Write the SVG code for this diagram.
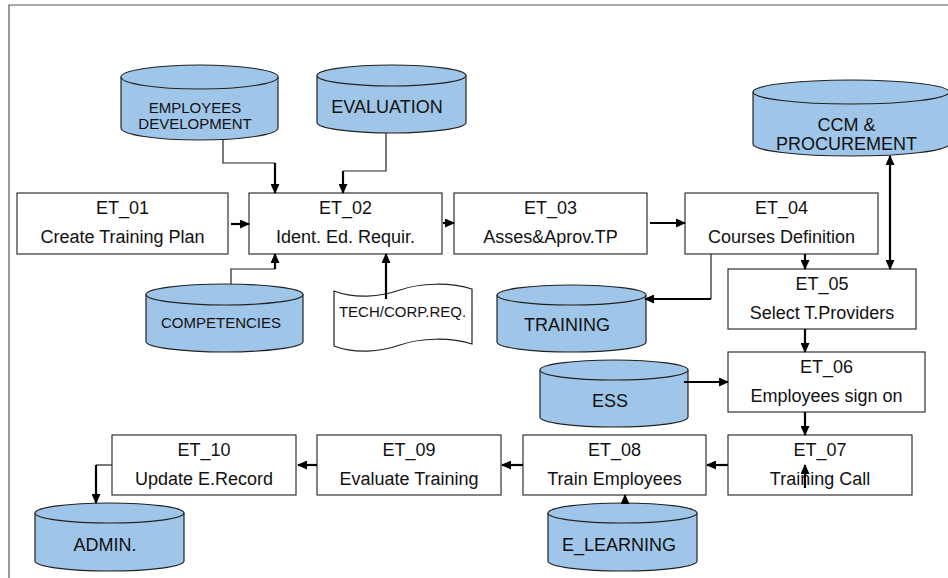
<svg xmlns="http://www.w3.org/2000/svg" width="948" height="578" viewBox="0 0 948 578">
  <style>
    .frame { fill: none; stroke: #555; stroke-width: 1.2; }
    .box { fill: #fff; stroke: #333; stroke-width: 1.2; }
    .db { fill: #9fc5e8; stroke: #222; stroke-width: 1.2; }
    .doc { fill: #fff; stroke: #222; stroke-width: 1.2; }
    .t { font-family: "Liberation Sans", Arial, sans-serif; font-size: 18px; fill: #111; text-anchor: middle; }
    .s { font-size: 15px; }
    .thin { fill: none; stroke: #222; stroke-width: 1.2; }
    .thick { fill: none; stroke: #000; stroke-width: 2.2; }
    .arr { marker-end: url(#ah); }
    .both { marker-start: url(#ah); marker-end: url(#ah); }
  </style>
  <defs>
    <marker id="ah" markerWidth="10" markerHeight="9" refX="9" refY="4.5" orient="auto-start-reverse" markerUnits="userSpaceOnUse">
      <path d="M0,0 L10,4.5 L0,9 Z" fill="#000"/>
    </marker>
  </defs>

  <rect width="948" height="578" fill="#fff"/>
  <!-- page frame (top and left edges only) -->
  <path class="frame" d="M9,578 V5 H948"/>

  <!-- process steps -->
  <g id="et01"><rect class="box" x="17" y="193" width="211" height="61"/><text class="t" x="122.5" y="214">ET_01</text><text class="t" x="122.5" y="243">Create Training Plan</text></g>
  <g id="et02"><rect class="box" x="249" y="193" width="193" height="61"/><text class="t" x="345.5" y="214">ET_02</text><text class="t" x="345.5" y="243">Ident. Ed. Requir.</text></g>
  <g id="et03"><rect class="box" x="454" y="193" width="193" height="61"/><text class="t" x="550.5" y="214">ET_03</text><text class="t" x="550.5" y="243">Asses&amp;Aprov.TP</text></g>
  <g id="et04"><rect class="box" x="685" y="193" width="193" height="61"/><text class="t" x="781.5" y="214">ET_04</text><text class="t" x="781.5" y="243">Courses Definition</text></g>
  <g id="et05"><rect class="box" x="728" y="269" width="188" height="60"/><text class="t" x="822" y="290">ET_05</text><text class="t" x="822" y="319">Select T.Providers</text></g>
  <g id="et06"><rect class="box" x="728" y="352" width="197" height="60"/><text class="t" x="826.5" y="373">ET_06</text><text class="t" x="826.5" y="402">Employees sign on</text></g>
  <g id="et07"><rect class="box" x="728" y="435" width="184" height="60"/><text class="t" x="820" y="456">ET_07</text><text class="t" x="820" y="485">Training Call</text></g>
  <g id="et08"><rect class="box" x="523" y="435" width="183" height="60"/><text class="t" x="614.5" y="456">ET_08</text><text class="t" x="614.5" y="485">Train Employees</text></g>
  <g id="et09"><rect class="box" x="317" y="435" width="184" height="60"/><text class="t" x="409" y="456">ET_09</text><text class="t" x="409" y="485">Evaluate Training</text></g>
  <g id="et10"><rect class="box" x="112" y="435" width="184" height="60"/><text class="t" x="204" y="456">ET_10</text><text class="t" x="204" y="485">Update E.Record</text></g>

  <!-- data stores -->
  <g id="db-employees-development">
    <path class="db" d="M121,77 V128 A78.5,12 0 0 0 278,128 V77"/>
    <ellipse class="db" cx="199.5" cy="77" rx="78.5" ry="12"/>
    <text class="t s" x="195" y="113">EMPLOYEES</text>
    <text class="t s" x="195" y="129">DEVELOPMENT</text>
  </g>
  <g id="db-evaluation">
    <path class="db" d="M317,75.5 V122.5 A74.5,10.5 0 0 0 466,122.5 V75.5"/>
    <ellipse class="db" cx="391.5" cy="75.5" rx="74.5" ry="10.5"/>
    <text class="t" x="387" y="113">EVALUATION</text>
  </g>
  <g id="db-ccm-procurement">
    <path class="db" d="M753,92 V144 A98,12 0 0 0 949,144 V92"/>
    <ellipse class="db" cx="851" cy="92" rx="98" ry="12"/>
    <text class="t" x="846.5" y="131">CCM &amp;</text>
    <text class="t" x="846.5" y="150">PROCUREMENT</text>
  </g>
  <g id="db-competencies">
    <path class="db" d="M146,294.5 V341.5 A78.5,10.5 0 0 0 303,341.5 V294.5"/>
    <ellipse class="db" cx="224.5" cy="294.5" rx="78.5" ry="10.5"/>
    <text class="t s" x="221" y="328">COMPETENCIES</text>
  </g>
  <g id="doc-tech-corp-req">
    <path class="doc" d="M334,291 C355,299 380,297 400,290 C420,283 450,282 472,289 L472,344 C450,337 420,338 400,345 C380,352 355,354 334,346 Z"/>
    <text class="t s" x="402.5" y="317">TECH/CORP.REQ.</text>
  </g>
  <g id="db-training">
    <path class="db" d="M497,295 V342 A74.5,10 0 0 0 646,342 V295"/>
    <ellipse class="db" cx="571.5" cy="295" rx="74.5" ry="10"/>
    <text class="t" x="567" y="331">TRAINING</text>
  </g>
  <g id="db-ess">
    <path class="db" d="M540,370 V417 A74,10 0 0 0 688,417 V370"/>
    <ellipse class="db" cx="614" cy="370" rx="74" ry="10"/>
    <text class="t" x="610" y="407">ESS</text>
  </g>
  <g id="db-e-learning">
    <path class="db" d="M548,513 V561 A74.5,10 0 0 0 697,561 V513"/>
    <ellipse class="db" cx="622.5" cy="513" rx="74.5" ry="10"/>
    <text class="t" x="619" y="551">E_LEARNING</text>
  </g>
  <g id="db-admin">
    <path class="db" d="M35,513 V561 A74.5,10 0 0 0 184,561 V513"/>
    <ellipse class="db" cx="109.5" cy="513" rx="74.5" ry="10"/>
    <text class="t" x="105" y="551">ADMIN.</text>
  </g>

  <!-- connectors, drawn over the shapes -->
  <g id="connectors">
    <path class="thin" d="M223,140 V163 H275"/>
    <path class="thick arr" d="M275,163 V193"/>
    <path class="thin" d="M386,133 V171 H343"/>
    <path class="thick arr" d="M343,171 V193"/>
    <path class="thick arr" d="M231,224 H249"/>
    <path class="thin" d="M231,284 V269 H275"/>
    <path class="thick arr" d="M275,269 V254"/>
    <path class="thick arr" d="M386,299 V254"/>
    <path class="thick arr" d="M443,223 H454"/>
    <path class="thick arr" d="M650,223 H685"/>
    <path class="thick arr" d="M805,254 V269"/>
    <path class="thick both" d="M890,156 V269"/>
    <path class="thin" d="M711,254 V299"/>
    <path class="thick arr" d="M711,299 H645"/>
    <path class="thick arr" d="M805,329 V352"/>
    <path class="thick arr" d="M684,382 H728"/>
    <path class="thick arr" d="M805,412 V435"/>
    <path class="thick arr" d="M805,488 V465"/>
    <path class="thick arr" d="M728,465 H707"/>
    <path class="thick arr" d="M523,465 H502"/>
    <path class="thick arr" d="M317,465 H298"/>
    <path class="thin" d="M112,465 H96"/>
    <path class="thick arr" d="M96,465 V503"/>
    <path class="thick arr" d="M625,503 V495"/>
  </g>
</svg>
